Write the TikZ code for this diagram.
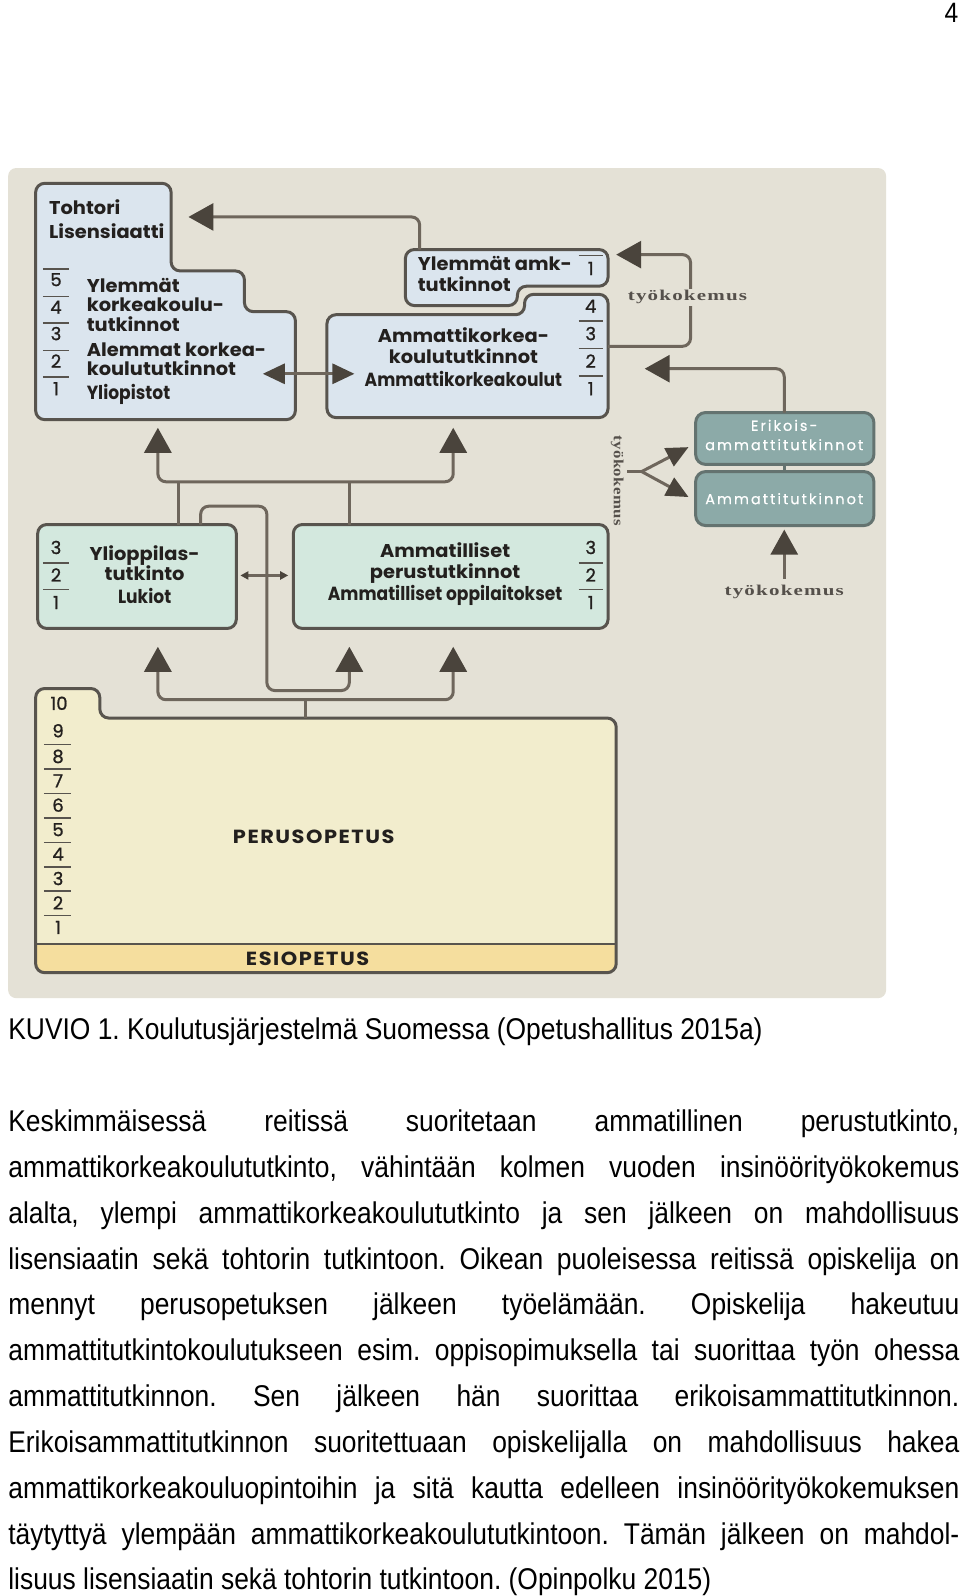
\documentclass[tikz,border=0pt]{standalone}
\usepackage{fontspec}
\setmainfont{Liberation Sans}[FakeStretch=0.88]
\newfontfamily\fut{Poppins}[FakeStretch=1.05]
\newfontfamily\futcap{Poppins}[FakeStretch=1.1,LetterSpace=8]
\newfontfamily\futc{Poppins}[FakeStretch=0.9]
\newfontfamily\futn{Poppins}[FakeBold=1]
\newfontfamily\futw{Poppins}[LetterSpace=14,FakeBold=0.6]
\newfontfamily\ser{Liberation Serif}[FakeStretch=1.4,LetterSpace=8]
\newfontfamily\serv{Liberation Serif}[FakeStretch=1.2,LetterSpace=3]
\usetikzlibrary{arrows.meta}
\definecolor{panelc}{RGB}{228,225,214}
\definecolor{bluec}{RGB}{219,229,238}
\definecolor{greenc}{RGB}{211,232,222}
\definecolor{tealc}{RGB}{140,170,168}
\definecolor{perusc}{RGB}{242,237,205}
\definecolor{esic}{RGB}{245,222,158}
\definecolor{bordc}{RGB}{88,84,78}
\definecolor{tealb}{RGB}{100,115,112}
\definecolor{linec}{RGB}{110,102,92}
\definecolor{tipc}{RGB}{74,68,60}
\definecolor{txtc}{RGB}{35,32,30}
\definecolor{tkc}{RGB}{85,80,75}
\tikzset{
  boxline/.style={draw=bordc, line width=3pt, rounded corners=9pt},
  hd/.style={font=\fut\bfseries\fontsize{18.5}{20}\selectfont, text=txtc, inner sep=0pt},
  hdcap/.style={font=\futcap\bfseries\fontsize{19}{20}\selectfont, text=txtc, inner sep=0pt},
  cd/.style={font=\futc\bfseries\fontsize{19}{20}\selectfont, text=txtc, inner sep=0pt},
  num/.style={font=\futn\fontsize{18}{18}\selectfont, text=txtc, inner sep=0pt, anchor=base},
  sepl/.style={draw=bordc, line width=1.5pt},
  wl/.style={font=\futw\fontsize{14.5}{16}\selectfont, text=white, inner sep=0pt, anchor=base},
  tk/.style={font=\ser\bfseries\fontsize{15}{16}\selectfont, text=tkc, inner sep=2pt, fill=panelc},
  tkv/.style={font=\serv\bfseries\fontsize{14}{16}\selectfont, text=tkc, inner sep=1pt},
  conn/.style={draw=linec, line width=3pt, rounded corners=8pt},
  bigtip/.tip={Triangle[width=27pt,length=25pt,color=tipc]},
  midtip/.tip={Triangle[width=20pt,length=22pt,color=tipc]},
  smalltip/.tip={Triangle[width=8pt,length=8pt,color=tipc]},
  body/.style={font=\fontsize{30}{45}\selectfont, inner sep=0pt, anchor=base west, text=black},
}
\frenchspacing
\begin{document}
\begin{tikzpicture}[x=1.0185pt,y=-1.0185pt]
\useasboundingbox (0,0) rectangle (942.57,1567.0);
\fill[white] (0,0) rectangle (942.57,1567.0);
\node[font=\fontsize{28}{30}\selectfont, inner sep=0pt, anchor=base east] (pnum) at (941,22) {4};
% panel
\fill[panelc, rounded corners=8pt] (8,165) rectangle (870,980);

% ---------- top-left box: university ----------
\path[boxline, fill=bluec] (35,412) -- (35,180) -- (168,180) -- (168,266) -- (240,266) -- (240,306) -- (290,306) -- (290,412) -- cycle;
\node[hd, anchor=base west] (toh) at (48,211) {Tohtori};
\node[hd, anchor=base west] (lis) at (48,234) {Lisensiaatti};
\foreach \n/\y in {5/281,4/308,3/334,2/361,1/388} \node[num] (u\n) at (55,\y) {\n};
\foreach \y in {264,291,317,344,370} \draw[sepl] (42,\y) -- (68,\y);
\node[hd, anchor=base west] (yl1) at (85,287) {Ylemmät};
\node[hd, anchor=base west] (yl2) at (85,306) {korkeakoulu-};
\node[hd, anchor=base west] (yl3) at (85,325) {tutkinnot};
\node[hd, anchor=base west] (al1) at (85,350) {Alemmat korkea-};
\node[hd, anchor=base west] (al2) at (85,369) {koulututkinnot};
\node[cd, anchor=base west] (ylio) at (85,392) {Yliopistot};

% ---------- Ylemmät amk ----------
\path[boxline, fill=bluec] (398,300) -- (398,245) -- (597,245) -- (597,281) -- (508,281) -- (508,300) -- cycle;
\node[hd, anchor=base west] (ya1) at (410,266) {Ylemmät amk-};
\node[hd, anchor=base west] (ya2) at (410,286) {tutkinnot};
\node[num] (ya) at (580,270) {1};
\draw[sepl] (568,251) -- (592,251);

% ---------- Ammattikorkeakoulut ----------
\path[boxline, fill=bluec] (321,410) -- (321,309) -- (515,309) -- (515,289) -- (597,289) -- (597,410) -- cycle;
\node[hd, anchor=base] (amk1) at (455,336) {Ammattikorkea-};
\node[hd, anchor=base] (amk2) at (455,357) {koulututkinnot};
\node[cd, anchor=base] (amk3) at (455,379) {Ammattikorkeakoulut};
\foreach \n/\y in {4/307,3/334,2/361,1/388} \node[num] (a\n) at (580,\y) {\n};
\foreach \y in {315,342,369} \draw[sepl] (568,\y) -- (592,\y);

% ---------- right boxes ----------
\path[draw=tealb, line width=3pt, rounded corners=10pt, fill=tealc] (683,405) rectangle (858,456);
\path[draw=tealb, line width=3pt, rounded corners=10pt, fill=tealc] (683,463) rectangle (858,516);
\draw[draw=tealb, line width=3pt] (770,456) -- (770,463);
\node[wl] (er1) at (770,423) {Erikois-};
\node[wl] (er2) at (770,442) {ammattitutkinnot};
\node[wl] (at1) at (770,495) {Ammattitutkinnot};

% ---------- middle boxes ----------
\path[boxline, fill=greenc] (37,515) rectangle (232,617);
\node[hd, anchor=base] (yo1) at (142,550) {Ylioppilas-};
\node[hd, anchor=base] (yo2) at (142,570) {tutkinto};
\node[cd, anchor=base] (yo3) at (142,593) {Lukiot};
\foreach \n/\y in {3/544,2/571,1/598} \node[num] (l\n) at (55,\y) {\n};
\foreach \y in {553,579} \draw[sepl] (42,\y) -- (68,\y);

\path[boxline, fill=greenc] (288,515) rectangle (597,617);
\node[hd, anchor=base] (ap1) at (437,547) {Ammatilliset};
\node[hd, anchor=base] (ap2) at (437,568) {perustutkinnot};
\node[cd, anchor=base] (ap3) at (437,590) {Ammatilliset oppilaitokset};
\foreach \n/\y in {3/544,2/571,1/598} \node[num] (p\n) at (580,\y) {\n};
\foreach \y in {553,579} \draw[sepl] (568,\y) -- (592,\y);

% ---------- perusopetus ----------
\path[fill=perusc, rounded corners=9pt] (35,955) -- (35,676) -- (98,676) -- (98,705) -- (605,705) -- (605,955) -- cycle;
\begin{scope}
\clip[rounded corners=9pt] (35,955) -- (35,676) -- (98,676) -- (98,705) -- (605,705) -- (605,955) -- cycle;
\fill[esic] (30,927) rectangle (610,960);
\end{scope}
\path[boxline] (35,955) -- (35,676) -- (98,676) -- (98,705) -- (605,705) -- (605,955) -- cycle;
\draw[draw=bordc, line width=2.5pt] (35,927) -- (605,927);
\node[num] (n10) at (58,697) {10};
\foreach \n/\y in {9/724,8/749,7/773,6/797,5/821,4/845,3/869,2/893,1/917} \node[num] (k\n) at (57,\y) {\n};
\foreach \y in {731,755,779,803,827,851,875,899} \draw[sepl] (43,\y) -- (70,\y);
\node[hdcap, anchor=base] (perus) at (308,828) {PERUSOPETUS};
\node[hdcap, anchor=base] (esi) at (302,948) {ESIOPETUS};

% ---------- coordinates ----------
\coordinate (tohtip) at (185,213);
\coordinate (yastart) at (412,245);
\coordinate (uniR) at (258,367);
\coordinate (amkL) at (348,367);
\coordinate (amkR) at (597,340);
\coordinate (yatip) at (605,250);
\coordinate (ertop) at (770,405);
\coordinate (amktip) at (633,362);
\coordinate (fork) at (630,463);
\coordinate (forkL) at (616,463);
\coordinate (ertip) at (676,439);
\coordinate (attip) at (676,488);
\coordinate (atbot) at (770,520);
\coordinate (tkbot) at (770,568);
\coordinate (upL) at (155,420);
\coordinate (upR) at (445,420);
\coordinate (loL) at (155,635);
\coordinate (loM) at (343,635);
\coordinate (loR) at (445,635);

% ---------- connectors ----------
\draw[conn, -{bigtip}] (yastart) -- (412,213) -- (tohtip);
\draw[conn, {midtip}-{midtip}] (uniR) -- (amkL);
\draw[conn, -{bigtip}] (amkR) -- (678,340) -- (678,250) -- (yatip);
\node[tk] (tk1) at (675,292) {työkokemus};
\draw[conn, -{bigtip}] (ertop) -- (770,362) -- (amktip);
\draw[conn, rounded corners=0pt] (forkL) -- (fork);
\draw[conn, rounded corners=0pt, -{midtip}] (fork) -- (ertip);
\draw[conn, rounded corners=0pt, -{midtip}] (fork) -- (attip);
\node[tkv, rotate=-90] (tk2) at (606,472) {työkokemus};
\draw[conn, -{bigtip}] (tkbot) -- (atbot);
\node[tk, fill=none] (tk3) at (770,581) {työkokemus};

\draw[conn, {bigtip}-{bigtip}] (upL) -- (155,473) -- (445,473) -- (upR);
\draw[conn] (175,515) -- (175,473);
\draw[conn] (343,515) -- (343,473);
\draw[conn, {smalltip}-{smalltip}] (236,565) -- (283,565);
\draw[conn, -{bigtip}] (197,515) -- (197,497) -- (262,497) -- (262,678) -- (343,678) -- (loM);
\draw[conn, {bigtip}-{bigtip}] (loL) -- (155,687) -- (445,687) -- (loR);
\draw[conn] (300,705) -- (300,687);

% ---------- text ----------
\node[body] (cap) at (8,1021) {KUVIO 1. Koulutusjärjestelmä Suomessa (Opetushallitus 2015a)};
\node[body] (b1) at (8,1111) {\makebox[951pt][s]{Keskimmäisessä reitissä suoritetaan ammatillinen perustutkinto,}};
\node[body] (b2) at (8,1156) {\makebox[951pt][s]{ammattikorkeakoulututkinto, vähintään kolmen vuoden insinöörityökokemus}};
\node[body] (b3) at (8,1201) {\makebox[951pt][s]{alalta, ylempi ammattikorkeakoulututkinto ja sen jälkeen on mahdollisuus}};
\node[body] (b4) at (8,1246) {\makebox[951pt][s]{lisensiaatin sekä tohtorin tutkintoon. Oikean puoleisessa reitissä opiskelija on}};
\node[body] (b5) at (8,1291) {\makebox[951pt][s]{mennyt perusopetuksen jälkeen työelämään. Opiskelija hakeutuu}};
\node[body] (b6) at (8,1336) {\makebox[951pt][s]{ammattitutkintokoulutukseen esim. oppisopimuksella tai suorittaa työn ohessa}};
\node[body] (b7) at (8,1381) {\makebox[951pt][s]{ammattitutkinnon. Sen jälkeen hän suorittaa erikoisammattitutkinnon.}};
\node[body] (b8) at (8,1426) {\makebox[951pt][s]{Erikoisammattitutkinnon suoritettuaan opiskelijalla on mahdollisuus hakea}};
\node[body] (b9) at (8,1471) {\makebox[951pt][s]{ammattikorkeakouluopintoihin ja sitä kautta edelleen insinöörityökokemuksen}};
\node[body] (b10) at (8,1516) {\makebox[951pt][s]{täytyttyä ylempään ammattikorkeakoulututkintoon. Tämän jälkeen on mahdol-}};
\node[body] (b11) at (8,1561) {lisuus lisensiaatin sekä tohtorin tutkintoon. (Opinpolku 2015)};
\end{tikzpicture}
\end{document}
